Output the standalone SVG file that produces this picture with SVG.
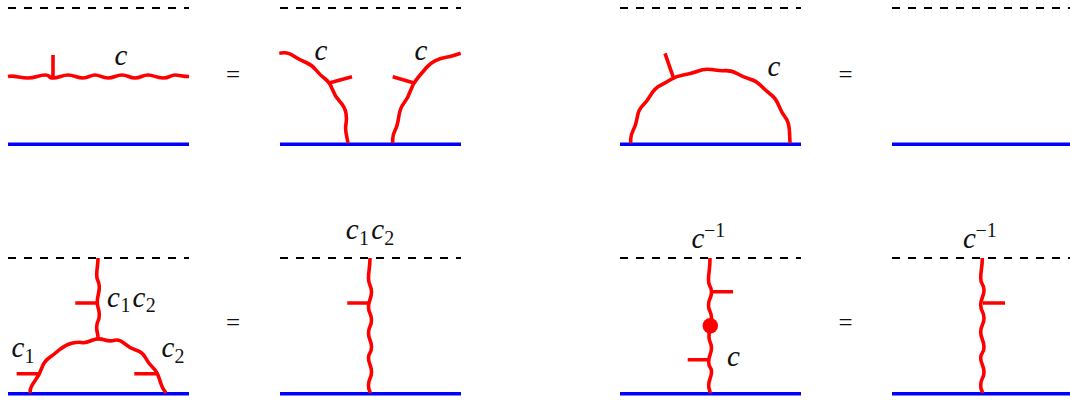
<svg xmlns="http://www.w3.org/2000/svg" width="1070" height="402" viewBox="0 0 1070 402">
<style>
.d{stroke:#000;stroke-width:2.2;stroke-dasharray:8 8;fill:none}
.b{stroke:#00f;stroke-width:3.400;fill:none}
.r{stroke:#f00;stroke-width:3.600;fill:none;stroke-linejoin:round}
text{font-family:"Liberation Serif","Times New Roman",serif;fill:#111}
.m{font-size:29px;font-style:italic}
.s{font-size:20px}
.e{font-size:25px}
</style>
<rect width="1070" height="402" fill="#fff"/>
<g id="panel-a-left">
<path class="d" d="M8 8H189"/><path class="b" d="M8 144.200H189"/>
<path class="r" d="M8 76.500C14 75 20 78 28 78S38 75 45 75S47 78 53 78S62 75 68 75S77 78 83 78S90 75 95 75S102 78 108 78S116 75 122 75S129 78 135 78S142 75 148 75S156 78 163 78S170 75 175 75S182 76.500 189 76.500M53 55V77"/>
<text class="m" x="114.500" y="65">c</text>
</g>
<text id="eq1" class="e" x="226" y="83">=</text>
<g id="panel-a-right">
<path class="d" d="M280 8H461"/><path class="b" d="M280 144.200H461"/>
<path class="r" d="M279.300 53.300L283.600 52.800Q288 52.300 294 56.200Q300 60 306 62.500Q312 65 316 70Q320 75 325 78.800Q330 82.700 332.500 89.700Q335 96.700 340 101.800Q345 107 346 113.500Q347 120 346 124Q345 128 346.500 135.500L348 143M330 82.700L352 76.700"/>
<path class="r" d="M460.700 53.300L455.300 55Q450 56.700 445 57.500Q440 58.300 435 60.800Q430 63.300 426.500 67.500Q423 71.700 418 77.500Q413 83.300 410.500 90.600Q408 98 404 103Q400 108 398.800 116.500Q397.700 125 395.200 130Q392.700 135 392.700 139L392.700 143M413.300 82.700L392.700 76.700"/>
<text class="m" x="314.500" y="60">c</text><text class="m" x="414.500" y="60">c</text>
</g>
<g id="panel-b-left">
<path class="d" d="M620 8H801"/><path class="b" d="M620 144.200H801"/>
<path class="r" d="M630.700 143L630.700 139Q630.700 135 633.300 130Q636 125 637.200 117.500Q638.300 110 642.500 105.800Q646.700 101.700 650.800 94.800Q655 88 660 85.600Q665 83.300 670.800 79.600Q676.700 76 683.300 75Q690 74 697.500 71.200Q705 68.300 711.600 69.600Q718.300 71 725 70.600Q731.700 70.300 737.500 73.800Q743.300 77.300 749.600 79Q756 80.700 760.500 85.300Q765 90 770.500 94.200Q776 98.300 778.800 105.600Q781.700 113 785.300 117.300Q789 121.700 789.500 132L790 143M673.300 77.300L665 53.300"/>
<text class="m" x="767.500" y="76">c</text>
</g>
<text id="eq2" class="e" x="838.500" y="83">=</text>
<g id="panel-b-right">
<path class="d" d="M892 8H1070"/><path class="b" d="M892 144.200H1070"/>
</g>
<g id="panel-c-left">
<path class="d" d="M8 258H189"/><path class="b" d="M8 393.800H189"/>
<path class="r" d="M98 258C98 266 96.700 268 96.700 275S99.300 280 99.300 287S97.300 295 97.300 302S99.300 308 99.300 315S96.700 320 96.700 327S98 332 98 338M75.300 303H98"/>
<path class="r" d="M30 393L30.300 390Q30.700 386.700 35 380.800Q39.300 375 41.600 368.300Q44 361.700 48.600 358.300Q53.300 355 59.100 350Q65 345 71.600 343.300Q78.300 341.700 81.600 342.500Q85 343.300 91.500 340.500Q98 337.700 104 339.700Q110 341.700 114.600 340.300Q119.300 339 124.600 343.600Q130 348.300 136.300 350.300Q142.700 352.300 145.500 357.800Q148.300 363.300 152.800 367.500Q157.300 371.700 159.500 379.200Q161.700 386.700 163.800 389.800L166 393M16.700 373.700H39.300M134.300 373.700H157.300"/>
<text class="m" x="107" y="306.700">c</text><text class="s" x="120.500" y="312">1</text><text class="m" x="132.500" y="306.700">c</text><text class="s" x="145.700" y="312">2</text>
<text class="m" x="11.400" y="357">c</text><text class="s" x="24.500" y="362.500">1</text>
<text class="m" x="161.400" y="357">c</text><text class="s" x="174.500" y="362.500">2</text>
</g>
<text id="eq3" class="e" x="226" y="331">=</text>
<g id="panel-c-right">
<path class="d" d="M280 258H461"/><path class="b" d="M280 393.800H461"/>
<path class="r" d="M370 258C370 268 368.500 270 368.500 278S371.500 285 371.500 292S368.500 300 368.500 307S371.500 313 371.500 320S368.500 326 368.500 333S371.500 340 371.500 347S368.500 352 368.500 358S371.500 365 371.500 372S368.500 378 368.500 385S370 389 370 393M347.300 303H370"/>
<text class="m" x="345.700" y="239">c</text><text class="s" x="359" y="244.500">1</text><text class="m" x="371.200" y="239">c</text><text class="s" x="384.300" y="244.500">2</text>
</g>
<g id="panel-d-left">
<path class="d" d="M620 258H801"/><path class="b" d="M620 393.800H801"/>
<path class="r" d="M710 258C710 270 708.500 272 708.500 280S711.500 285 711.500 292S708.500 298 708.500 305S711.500 311 711.500 318S710 322 710 326S709 331 709 337S711.500 342 711.500 348S708.700 355 708.700 362S711.500 366 711.500 372S708.700 379 708.700 385S710 389 710 393M711.700 291.700H733M687.700 359.700H709"/>
<circle cx="710.300" cy="325.700" r="7.700" fill="#f00"/>
<text class="m" x="691.400" y="248.300">c</text><text class="s" x="704" y="236.700">−1</text>
<text class="m" x="727" y="365.700">c</text>
</g>
<text id="eq4" class="e" x="838.500" y="331">=</text>
<g id="panel-d-right">
<path class="d" d="M892 258H1070"/><path class="b" d="M892 393.800H1070"/>
<path class="r" d="M982.300 258C982.300 268 980.700 270 980.700 278S984 283 984 290S980.700 298 980.700 305S984 311 984 318S980.700 325 980.700 332S984 340 984 347S980.700 352 980.700 358S984 365 984 372S980.700 378 980.700 385S982.300 389 982.300 393M983 303H1005"/>
<text class="m" x="963" y="248.300">c</text><text class="s" x="975.500" y="236.700">−1</text>
</g>
</svg>
